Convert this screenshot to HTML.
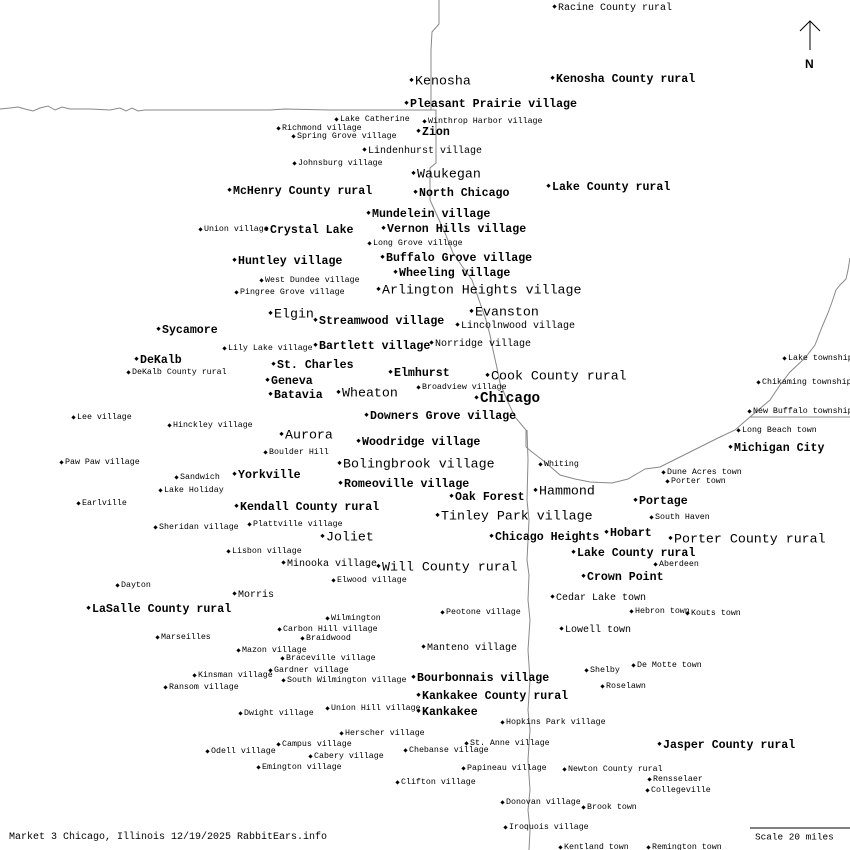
<!DOCTYPE html>
<html><head><meta charset="utf-8"><style>
html,body{margin:0;padding:0;background:#fff}
#m{position:relative;width:850px;height:850px;overflow:hidden;background:#fff;font-family:"Liberation Mono","DejaVu Sans Mono",monospace;color:#000}
svg{position:absolute;left:0;top:0}
.l{position:absolute;white-space:pre;line-height:1;transform:translateY(calc(-50% + 2px))}
.l i{display:inline-block;width:3px;height:3px;background:#000;transform:rotate(45deg);margin-right:2px;vertical-align:middle;position:relative;top:-1px}
.S{font-size:8.3px}
.S i{top:1px}
.M{font-size:10px}
.L{font-size:13.3px}
.B{font-size:11.6px;font-weight:bold}
.C{font-size:14.3px;font-weight:bold}
</style></head><body><div id="m">
<svg width="850" height="850" viewBox="0 0 850 850" fill="none" stroke="#888" stroke-width="1">
<polyline points="0,109 10,108 18,107 25,109 33,111 40,108 48,106 55,110 62,107 70,109 90,109 110,110 120,108 126,111 132,108 138,111 145,110 160,110 200,110 230,110 250,110 270,110 285,109 330,110 380,110 400,110 432,110"/>
<polyline points="439,0 439,24 432,32 431,50 431,110 436,110 436,163 430,168 430,200 440,222 445,233 453,253 462,266 472,280 479,300 486,320 490,335 493,350 497,368 500,383 507,400 515,417 526,430 526,447"/>
<polyline points="526,447 532,452 545,462 560,475 575,479 590,482 612,483 628,479 640,472 645,469 660,467 680,457 700,447 718,438 735,430 750,417 770,400 780,385 790,372 805,358 815,345 822,327 828,313 832,302 836,290 840,285 846,279 848,270 850,258"/>
<polyline points="527,430 528,460 527,500 529,520 527,560 529,575 528,600 530,620 528,650 530,680 528,710 530,730 528,760 530,790 528,810 530,830 529,850"/>
<polyline points="750,417 850,417"/>
<polyline points="750,828 850,828" stroke="#000"/>
<polyline points="810,50 810,21" stroke="#000"/>
<polyline points="800,31 810,21 820,31" stroke="#000"/>
</svg>
<div class="l" style="left:805px;top:62px;font-family:'Liberation Sans',sans-serif;font-weight:bold;font-size:12px">N</div>
<div class="l M" style="left:9px;top:836px">Market 3 Chicago, Illinois 12/19/2025 RabbitEars.info</div>
<div class="l M" style="left:755px;top:835px;font-size:9.4px">Scale 20 miles</div>

<div class="l M" style="left:553px;top:7px"><i></i>Racine County rural</div>
<div class="l L" style="left:410px;top:79px"><i></i>Kenosha</div>
<div class="l B" style="left:551px;top:78px"><i></i>Kenosha County rural</div>
<div class="l B" style="left:405px;top:103px"><i></i>Pleasant Prairie village</div>
<div class="l S" style="left:335px;top:118px"><i></i>Lake Catherine</div>
<div class="l S" style="left:423px;top:120px"><i></i>Winthrop Harbor village</div>
<div class="l S" style="left:277px;top:127px"><i></i>Richmond village</div>
<div class="l S" style="left:292px;top:135px"><i></i>Spring Grove village</div>
<div class="l B" style="left:417px;top:131px"><i></i>Zion</div>
<div class="l M" style="left:363px;top:150px"><i></i>Lindenhurst village</div>
<div class="l S" style="left:293px;top:162px"><i></i>Johnsburg village</div>
<div class="l L" style="left:412px;top:172px"><i></i>Waukegan</div>
<div class="l B" style="left:228px;top:190px"><i></i>McHenry County rural</div>
<div class="l B" style="left:414px;top:192px"><i></i>North Chicago</div>
<div class="l B" style="left:547px;top:186px"><i></i>Lake County rural</div>
<div class="l B" style="left:367px;top:213px"><i></i>Mundelein village</div>
<div class="l S" style="left:199px;top:228px"><i></i>Union village</div>
<div class="l B" style="left:265px;top:229px"><i></i>Crystal Lake</div>
<div class="l B" style="left:382px;top:228px"><i></i>Vernon Hills village</div>
<div class="l S" style="left:368px;top:242px"><i></i>Long Grove village</div>
<div class="l B" style="left:233px;top:260px"><i></i>Huntley village</div>
<div class="l B" style="left:381px;top:257px"><i></i>Buffalo Grove village</div>
<div class="l B" style="left:394px;top:272px"><i></i>Wheeling village</div>
<div class="l S" style="left:260px;top:279px"><i></i>West Dundee village</div>
<div class="l L" style="left:377px;top:288px"><i></i>Arlington Heights village</div>
<div class="l S" style="left:235px;top:291px"><i></i>Pingree Grove village</div>
<div class="l L" style="left:269px;top:312px"><i></i>Elgin</div>
<div class="l L" style="left:470px;top:310px"><i></i>Evanston</div>
<div class="l B" style="left:314px;top:320px"><i></i>Streamwood village</div>
<div class="l M" style="left:456px;top:325px"><i></i>Lincolnwood village</div>
<div class="l B" style="left:157px;top:329px"><i></i>Sycamore</div>
<div class="l S" style="left:223px;top:347px"><i></i>Lily Lake village</div>
<div class="l B" style="left:314px;top:345px"><i></i>Bartlett village</div>
<div class="l M" style="left:430px;top:343px"><i></i>Norridge village</div>
<div class="l B" style="left:135px;top:359px"><i></i>DeKalb</div>
<div class="l B" style="left:272px;top:364px"><i></i>St. Charles</div>
<div class="l S" style="left:127px;top:371px"><i></i>DeKalb County rural</div>
<div class="l B" style="left:389px;top:372px"><i></i>Elmhurst</div>
<div class="l L" style="left:486px;top:374px"><i></i>Cook County rural</div>
<div class="l B" style="left:266px;top:380px"><i></i>Geneva</div>
<div class="l S" style="left:417px;top:386px"><i></i>Broadview village</div>
<div class="l L" style="left:337px;top:391px"><i></i>Wheaton</div>
<div class="l B" style="left:269px;top:394px"><i></i>Batavia</div>
<div class="l C" style="left:475px;top:397px"><i></i>Chicago</div>
<div class="l S" style="left:72px;top:416px"><i></i>Lee village</div>
<div class="l B" style="left:365px;top:415px"><i></i>Downers Grove village</div>
<div class="l S" style="left:168px;top:424px"><i></i>Hinckley village</div>
<div class="l L" style="left:280px;top:433px"><i></i>Aurora</div>
<div class="l B" style="left:357px;top:441px"><i></i>Woodridge village</div>
<div class="l S" style="left:264px;top:451px"><i></i>Boulder Hill</div>
<div class="l S" style="left:60px;top:461px"><i></i>Paw Paw village</div>
<div class="l L" style="left:338px;top:462px"><i></i>Bolingbrook village</div>
<div class="l S" style="left:539px;top:463px"><i></i>Whiting</div>
<div class="l S" style="left:783px;top:357px"><i></i>Lake township</div>
<div class="l S" style="left:757px;top:381px"><i></i>Chikaming township</div>
<div class="l S" style="left:748px;top:410px"><i></i>New Buffalo township</div>
<div class="l S" style="left:737px;top:429px"><i></i>Long Beach town</div>
<div class="l B" style="left:729px;top:447px"><i></i>Michigan City</div>
<div class="l S" style="left:175px;top:476px"><i></i>Sandwich</div>
<div class="l B" style="left:233px;top:474px"><i></i>Yorkville</div>
<div class="l S" style="left:662px;top:471px"><i></i>Dune Acres town</div>
<div class="l S" style="left:666px;top:480px"><i></i>Porter town</div>
<div class="l S" style="left:159px;top:489px"><i></i>Lake Holiday</div>
<div class="l B" style="left:339px;top:483px"><i></i>Romeoville village</div>
<div class="l L" style="left:534px;top:489px"><i></i>Hammond</div>
<div class="l B" style="left:450px;top:496px"><i></i>Oak Forest</div>
<div class="l B" style="left:634px;top:500px"><i></i>Portage</div>
<div class="l S" style="left:77px;top:502px"><i></i>Earlville</div>
<div class="l B" style="left:235px;top:506px"><i></i>Kendall County rural</div>
<div class="l L" style="left:436px;top:514px"><i></i>Tinley Park village</div>
<div class="l S" style="left:650px;top:516px"><i></i>South Haven</div>
<div class="l S" style="left:154px;top:526px"><i></i>Sheridan village</div>
<div class="l S" style="left:248px;top:523px"><i></i>Plattville village</div>
<div class="l L" style="left:321px;top:535px"><i></i>Joliet</div>
<div class="l B" style="left:605px;top:532px"><i></i>Hobart</div>
<div class="l B" style="left:490px;top:536px"><i></i>Chicago Heights</div>
<div class="l L" style="left:669px;top:537px"><i></i>Porter County rural</div>
<div class="l S" style="left:227px;top:550px"><i></i>Lisbon village</div>
<div class="l B" style="left:572px;top:552px"><i></i>Lake County rural</div>
<div class="l M" style="left:282px;top:563px"><i></i>Minooka village</div>
<div class="l L" style="left:377px;top:565px"><i></i>Will County rural</div>
<div class="l S" style="left:654px;top:563px"><i></i>Aberdeen</div>
<div class="l S" style="left:332px;top:579px"><i></i>Elwood village</div>
<div class="l B" style="left:582px;top:576px"><i></i>Crown Point</div>
<div class="l S" style="left:116px;top:584px"><i></i>Dayton</div>
<div class="l M" style="left:233px;top:594px"><i></i>Morris</div>
<div class="l M" style="left:551px;top:597px"><i></i>Cedar Lake town</div>
<div class="l B" style="left:87px;top:608px"><i></i>LaSalle County rural</div>
<div class="l S" style="left:441px;top:611px"><i></i>Peotone village</div>
<div class="l S" style="left:630px;top:610px"><i></i>Hebron town</div>
<div class="l S" style="left:686px;top:612px"><i></i>Kouts town</div>
<div class="l S" style="left:326px;top:617px"><i></i>Wilmington</div>
<div class="l S" style="left:278px;top:628px"><i></i>Carbon Hill village</div>
<div class="l M" style="left:560px;top:629px"><i></i>Lowell town</div>
<div class="l S" style="left:156px;top:636px"><i></i>Marseilles</div>
<div class="l S" style="left:301px;top:637px"><i></i>Braidwood</div>
<div class="l M" style="left:422px;top:647px"><i></i>Manteno village</div>
<div class="l S" style="left:237px;top:649px"><i></i>Mazon village</div>
<div class="l S" style="left:281px;top:657px"><i></i>Braceville village</div>
<div class="l S" style="left:632px;top:664px"><i></i>De Motte town</div>
<div class="l S" style="left:585px;top:669px"><i></i>Shelby</div>
<div class="l S" style="left:269px;top:669px"><i></i>Gardner village</div>
<div class="l S" style="left:193px;top:674px"><i></i>Kinsman village</div>
<div class="l S" style="left:282px;top:679px"><i></i>South Wilmington village</div>
<div class="l B" style="left:412px;top:677px"><i></i>Bourbonnais village</div>
<div class="l S" style="left:164px;top:686px"><i></i>Ransom village</div>
<div class="l S" style="left:601px;top:685px"><i></i>Roselawn</div>
<div class="l B" style="left:417px;top:695px"><i></i>Kankakee County rural</div>
<div class="l S" style="left:239px;top:712px"><i></i>Dwight village</div>
<div class="l S" style="left:326px;top:707px"><i></i>Union Hill village</div>
<div class="l B" style="left:417px;top:711px"><i></i>Kankakee</div>
<div class="l S" style="left:501px;top:721px"><i></i>Hopkins Park village</div>
<div class="l S" style="left:340px;top:732px"><i></i>Herscher village</div>
<div class="l S" style="left:277px;top:743px"><i></i>Campus village</div>
<div class="l S" style="left:465px;top:742px"><i></i>St. Anne village</div>
<div class="l B" style="left:658px;top:744px"><i></i>Jasper County rural</div>
<div class="l S" style="left:206px;top:750px"><i></i>Odell village</div>
<div class="l S" style="left:404px;top:749px"><i></i>Chebanse village</div>
<div class="l S" style="left:309px;top:755px"><i></i>Cabery village</div>
<div class="l S" style="left:257px;top:766px"><i></i>Emington village</div>
<div class="l S" style="left:462px;top:767px"><i></i>Papineau village</div>
<div class="l S" style="left:563px;top:768px"><i></i>Newton County rural</div>
<div class="l S" style="left:648px;top:778px"><i></i>Rensselaer</div>
<div class="l S" style="left:396px;top:781px"><i></i>Clifton village</div>
<div class="l S" style="left:646px;top:789px"><i></i>Collegeville</div>
<div class="l S" style="left:501px;top:801px"><i></i>Donovan village</div>
<div class="l S" style="left:582px;top:806px"><i></i>Brook town</div>
<div class="l S" style="left:504px;top:826px"><i></i>Iroquois village</div>
<div class="l S" style="left:559px;top:846px"><i></i>Kentland town</div>
<div class="l S" style="left:647px;top:846px"><i></i>Remington town</div>
</div></body></html>
